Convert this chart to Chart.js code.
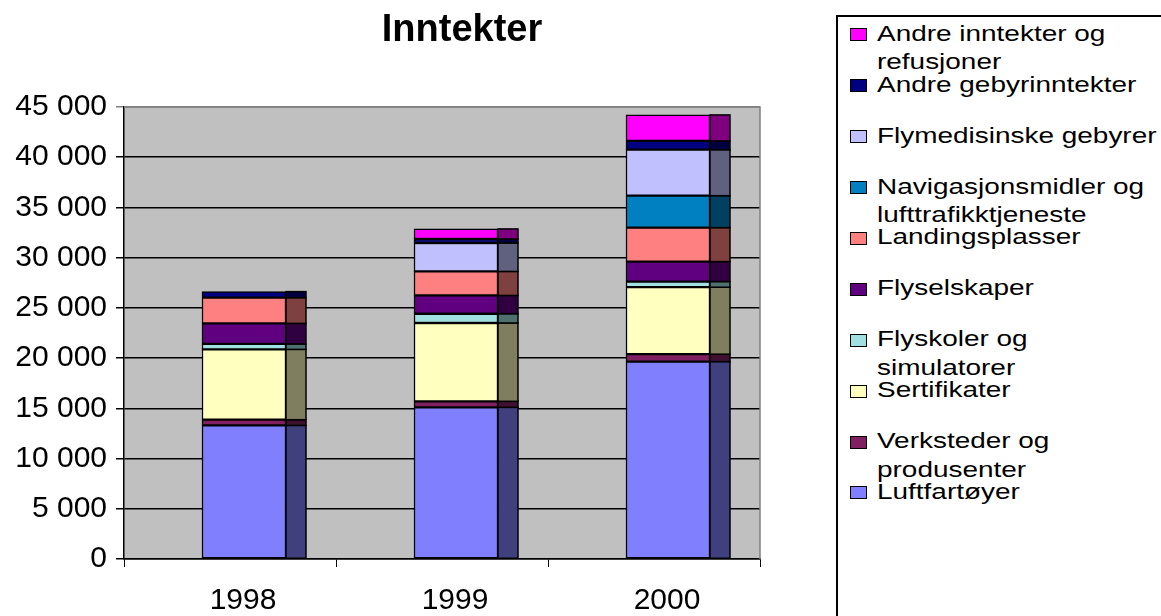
<!DOCTYPE html>
<html>
<head>
<meta charset="utf-8">
<script src="https://cdn.jsdelivr.net/npm/chart.js@4/dist/chart.umd.min.js"></script>
<style>
  body { margin: 0; background: #fff; font-family: "Liberation Sans", Arial, sans-serif; }
  #wrap { position: absolute; left: 0; top: 0; width: 800px; height: 616px; }
  #title { position: absolute; left: 262px; width: 400px; top: 5px; text-align: center;
           font-weight: bold; font-size: 38px; line-height: 46px; }
  #legend { position: absolute; left: 836px; top: 15px; width: 360px; height: 640px;
            border: 2px solid #000; background: #fff; }
  .lg-box { position: absolute; left: 850px; width: 17px; height: 13px; box-sizing: border-box; border: 1px solid #000; }
  .lg-text { position: absolute; left: 877px; width: 10.3em; font-size: 22px; line-height: 28.5px;
             transform: scaleX(1.27); transform-origin: 0 0; }
</style>
</head>
<body>
<div id="wrap"><canvas id="chart"></canvas></div>
<div id="title">Inntekter</div>
<div id="legend"></div>
<script>
// --- DATOS ---
const years = ['1998', '1999', '2000'];

const luftfartoyer     = [13300, 15100, 19650];
const verksteder       = [570, 600, 740];
const sertifikater     = [7000, 7800, 6670];
const flyskoler        = [540, 920, 560];
const flyselskaper     = [2050, 1820, 1990];
const landingsplasser  = [2560, 2390, 3380];
const navigasjon       = [null, null, 3180];
const flymedisinske    = [null, 2830, 4580];
const andreGebyr       = [600, 400, 870];
const andreInntekter   = [null, 1000, 2590];

const yMax = 45000;
const yStep = 5000;

// bottom of the stack first
const series = [
    { label: 'Luftfartøyer', data: luftfartoyer, color: '#8080ff' },
    { label: 'Verksteder og produsenter', data: verksteder, color: '#802060' },
    { label: 'Sertifikater', data: sertifikater, color: '#ffffc0' },
    { label: 'Flyskoler og simulatorer', data: flyskoler, color: '#a0e0e0' },
    { label: 'Flyselskaper', data: flyselskaper, color: '#600080' },
    { label: 'Landingsplasser', data: landingsplasser, color: '#ff8080' },
    { label: 'Navigasjonsmidler og lufttrafikktjeneste', data: navigasjon, color: '#0080c0' },
    { label: 'Flymedisinske gebyrer', data: flymedisinske, color: '#c0c0ff' },
    { label: 'Andre gebyrinntekter', data: andreGebyr, color: '#000080' },
    { label: 'Andre inntekter og refusjoner', data: andreInntekter, color: '#ff00ff' }
];

// mitad de brillo para la cara lateral
function darker(hex) {
    const n = parseInt(hex.slice(1), 16);
    const r = (n >> 16) >> 1, g = ((n >> 8) & 255) >> 1, b = (n & 255) >> 1;
    return `rgb(${r},${g},${b})`;
}

function fmt(v) {
    return String(v).replace(/\B(?=(\d{3})+(?!\d))/g, ' ');
}

// --- fondo gris, caras laterales y borde del área ---
const plotStyle = {
    id: 'plotStyle',
    beforeDraw(chart) {
        const { ctx, chartArea: a } = chart;
        ctx.save();
        ctx.fillStyle = '#c0c0c0';
        ctx.fillRect(a.left, a.top, a.right - a.left, a.bottom - a.top);
        ctx.restore();
    },
    afterDatasetsDraw(chart) {
        const { ctx, chartArea: a } = chart;
        const depth = 20;
        ctx.save();
        chart.data.datasets.forEach((ds, di) => {
            const meta = chart.getDatasetMeta(di);
            meta.data.forEach((bar, j) => {
                if (ds.data[j].y == null) return;
                const p = bar.getProps(['x', 'y', 'base', 'width'], true);
                const left = p.x + p.width / 2;
                const top = Math.min(p.y, p.base);
                const h = Math.abs(p.base - p.y);
                ctx.fillStyle = darker(series[di].color);
                ctx.fillRect(left, top, depth, h);
                ctx.strokeStyle = '#000';
                ctx.lineWidth = 1.5;
                ctx.strokeRect(left, top, depth, h);
            });
        });
        ctx.strokeStyle = '#808080';
        ctx.lineWidth = 1.5;
        ctx.beginPath();
        ctx.moveTo(a.left, a.top);
        ctx.lineTo(a.right, a.top);
        ctx.lineTo(a.right, a.bottom);
        ctx.stroke();
        ctx.restore();
    }
};

const ctx = document.getElementById('chart').getContext('2d');

new Chart(ctx, {
    type: 'bar',
    data: {
        labels: years,
        datasets: series.map(s => ({
            label: s.label,
            data: s.data.map((v, i) => ({ x: i, y: v })),
            backgroundColor: s.color,
            borderColor: '#000',
            borderWidth: 1.5,
            borderSkipped: false,
            barThickness: 84,
            xAxisID: 'xb'
        }))
    },
    options: {
        responsive: true,
        maintainAspectRatio: false,
        animation: false,
        layout: { padding: { top: 107, right: 40, left: 0, bottom: 0 } },
        plugins: { legend: { display: false }, tooltip: { enabled: false }, title: { display: false } },
        scales: {
            x: {
                type: 'category',
                offset: true,
                grid: { offset: true, drawOnChartArea: false, color: '#000', tickLength: 8 },
                border: { color: '#000', width: 1.5 },
                ticks: { color: '#000', font: { family: 'Liberation Sans, Arial', size: 30 }, padding: 16, labelOffset: 13, maxRotation: 0 },
                afterFit(scale) { scale.height = 57; }
            },
            xb: {
                type: 'linear',
                display: false,
                offset: false,
                grid: { offset: false },
                stacked: true,
                min: -0.566,
                max: 2.434
            },
            y: {
                stacked: true,
                min: 0,
                max: yMax,
                grid: {
                    color: c => (c.tick && c.tick.value === yMax ? '#808080' : '#000'),
                    lineWidth: 1.5,
                    tickLength: 8
                },
                border: { color: '#000', width: 1.5 },
                ticks: {
                    stepSize: yStep,
                    color: '#000',
                    font: { family: 'Liberation Sans, Arial', size: 30 },
                    padding: 9,
                    callback: v => fmt(v)
                },
                afterFit(scale) { scale.width = 124; }
            }
        }
    },
    plugins: [plotStyle]
});

// --- LEYENDA (HTML, de arriba hacia abajo) ---
const legendTop = 41.7;
const legendStep = 50.9;
series.slice().reverse().forEach((s, i) => {
    const baseline = legendTop + legendStep * i;
    const box = document.createElement('div');
    box.className = 'lg-box';
    box.style.top = (baseline - 13.4) + 'px';
    box.style.background = s.color;
    document.body.appendChild(box);
    const txt = document.createElement('div');
    txt.className = 'lg-text';
    txt.style.top = (baseline - 21.9) + 'px';
    txt.textContent = s.label;
    document.body.appendChild(txt);
});
</script>
</body>
</html>
